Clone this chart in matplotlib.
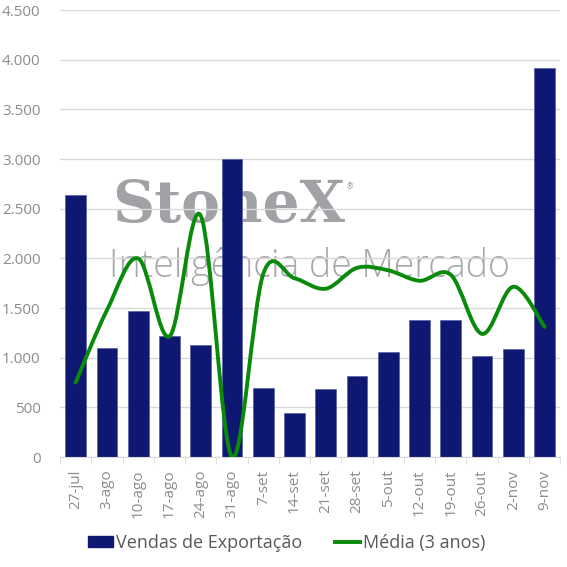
import matplotlib.pyplot as plt
from matplotlib.path import Path
import matplotlib.patches as mpatches
from matplotlib.lines import Line2D

# -----------------------------
# DADOS
# -----------------------------

semanas = ["27-jul", "3-ago", "10-ago", "17-ago", "24-ago", "31-ago", "7-set",
           "14-set", "21-set", "28-set", "5-out", "12-out", "19-out", "26-out",
           "2-nov", "9-nov"]

vendas = [2640, 1095, 1470, 1215, 1125, 3005, 700, 440, 680, 812, 1060,
          1375, 1378, 1013, 1083, 3917]

media_3anos = [752, 1480, 2000, 1215, 2430, 0, 1845, 1800, 1695, 1905,
               1880, 1775, 1835, 1240, 1715, 1311]

cor_barra = "#0e1872"
cor_linha = "#0a8a0a"
cor_texto = "#8c8c8c"
fonte = "Open Sans"

# -----------------------------
# GRÁFICO
# -----------------------------

fig = plt.figure(figsize=(5.67, 5.67), dpi=100, facecolor="white")
ax = fig.add_axes([0.106, 0.194, 0.882, 0.788])

x = list(range(len(semanas)))

ax.bar(x, vendas, width=0.66, color=cor_barra, edgecolor="#4a53a0",
       linewidth=0.4, zorder=2)

# linha suavizada (bezier tipo excel)
verts = [(x[0], media_3anos[0])]
codes = [Path.MOVETO]
n = len(x)
for i in range(n - 1):
    p0 = (x[max(i - 1, 0)], media_3anos[max(i - 1, 0)])
    p1 = (x[i], media_3anos[i])
    p2 = (x[i + 1], media_3anos[i + 1])
    p3 = (x[min(i + 2, n - 1)], media_3anos[min(i + 2, n - 1)])
    c1 = (p1[0] + (p2[0] - p0[0]) / 6, p1[1] + (p2[1] - p0[1]) / 6)
    c2 = (p2[0] - (p3[0] - p1[0]) / 6, p2[1] - (p3[1] - p1[1]) / 6)
    verts += [c1, c2, p2]
    codes += [Path.CURVE4] * 3

curva = mpatches.PathPatch(Path(verts, codes), facecolor="none",
                           edgecolor=cor_linha, linewidth=2.8,
                           capstyle="round", zorder=3)
ax.add_patch(curva)

ax.set_xlim(-0.5, n - 0.5)
ax.set_ylim(0, 4500)
ax.set_yticks(range(0, 4501, 500))
ax.set_yticklabels([f"{v:,}".replace(",", ".") for v in range(0, 4501, 500)])

ax.set_xticks(x)
ax.set_xticklabels(semanas, rotation=90)
ax.set_xticks([i + 0.5 for i in range(-1, n)], minor=True)

ax.grid(axis="y", color="#d9d9d9", linewidth=1)
ax.set_axisbelow(True)

for s in ["top", "right", "left"]:
    ax.spines[s].set_visible(False)
ax.spines["bottom"].set_color("#d9d9d9")

ax.tick_params(axis="y", length=0, labelsize=11, labelcolor=cor_texto, pad=14)
ax.tick_params(axis="x", which="major", length=0, labelsize=11,
               labelcolor=cor_texto, pad=9)
ax.tick_params(axis="x", which="minor", length=5, color="#d9d9d9")

for t in ax.get_xticklabels() + ax.get_yticklabels():
    t.set_fontfamily(fonte)

# marca d'agua (atras das barras)
ax.text(0.404, 0.637, "StoneX", transform=fig.transFigure, fontsize=42,
        fontweight="bold", family="DejaVu Serif", color="#9b9da1",
        ha="center", va="center", alpha=0.95, zorder=0.2)
ax.text(0.618, 0.671, "®", transform=fig.transFigure, fontsize=6,
        color="#9b9da1", ha="center", va="center", zorder=0.2)
ax.text(0.545, 0.530, "Inteligência de Mercado", transform=fig.transFigure,
        fontsize=27, family=fonte, fontweight="light", color="#a2a4a7",
        ha="center", va="center", alpha=0.95, zorder=0.2)

legenda = [
    mpatches.Patch(color=cor_barra, label="Vendas de Exportação"),
    Line2D([0], [0], color=cor_linha, linewidth=2.8, label="Média (3 anos)"),
]
fig.legend(handles=legenda, loc="center", bbox_to_anchor=(0.505, 0.043),
           ncol=2, frameon=False, prop={"family": fonte, "size": 13},
           labelcolor="#595959", handlelength=1.4, handleheight=0.55,
           handletextpad=0.15, columnspacing=1.8)

plt.savefig("out.png", dpi=100, facecolor="white")
